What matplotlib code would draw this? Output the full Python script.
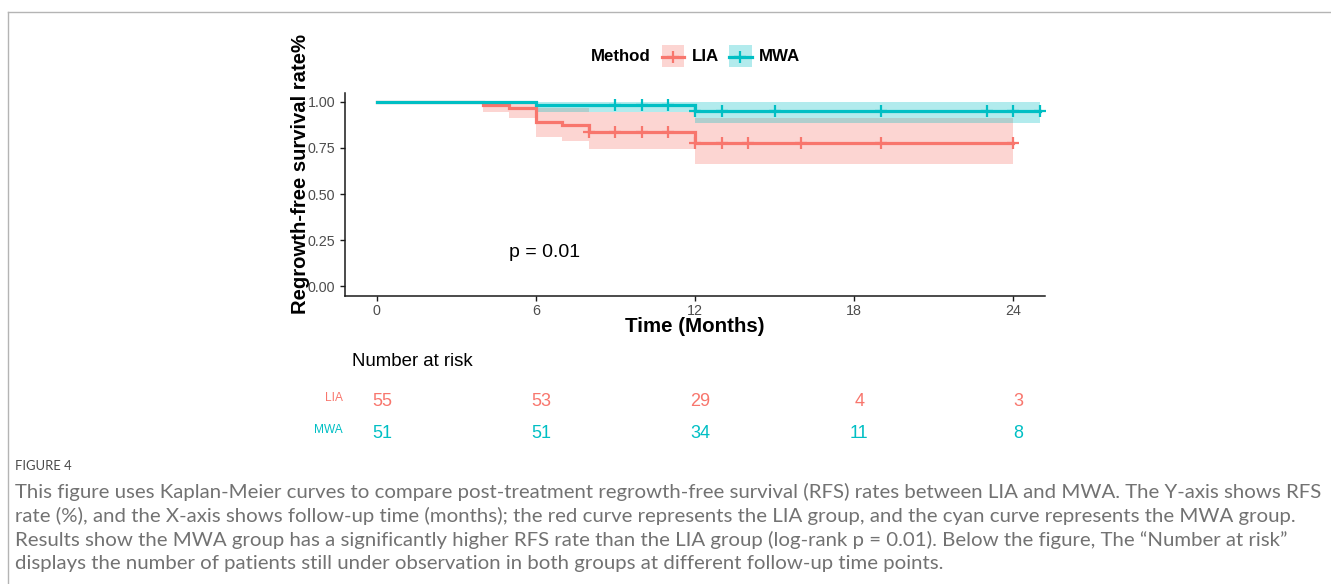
import numpy as np
import matplotlib
matplotlib.use("Agg")
import matplotlib.pyplot as plt
from matplotlib.patches import Rectangle
from matplotlib.lines import Line2D
from matplotlib.transforms import blended_transform_factory

# Kaplan-Meier step data
lia_time = [0, 4, 5, 6, 7, 8, 12]
lia_surv = [1.0, 0.982, 0.964, 0.891, 0.873, 0.836, 0.779]
lia_lower = [1.0, 0.946, 0.913, 0.810, 0.786, 0.743, 0.665]
lia_upper = [1.0, 1.0, 1.0, 0.967, 0.967, 0.942, 0.910]
lia_end = 24
lia_censor = [8, 9, 10, 11, 12, 13, 14, 16, 19, 24]

mwa_time = [0, 6, 12]
mwa_surv = [1.0, 0.980, 0.951]
mwa_lower = [1.0, 0.942, 0.886]
mwa_upper = [1.0, 1.0, 1.0]
mwa_end = 25
mwa_censor = [9, 10, 11, 12, 13, 15, 19, 23, 24, 25]

risk_times = [0, 6, 12, 18, 24]
lia_risk = [55, 53, 29, 4, 3]
mwa_risk = [51, 51, 34, 11, 8]

LIA_COL = "#F8766D"
MWA_COL = "#00BFC4"
FONT = ["Liberation Sans", "DejaVu Sans"]
plt.rcParams["font.family"] = FONT

W, H = 1331, 584
fig = plt.figure(figsize=(W / 100, H / 100), dpi=100)


def fx(x):
    return x / W


def fy(y):
    return 1 - y / H


# frame lines of the article figure box
fig.add_artist(Line2D([fx(7.5), 1], [fy(11.5), fy(11.5)], color="#b4b4b4", lw=1))
fig.add_artist(Line2D([fx(7.5), fx(7.5)], [fy(11.5), 0], color="#b4b4b4", lw=1))

ax_l, ax_r, ax_t, ax_b = 345, 1045, 92.5, 295.5
ax = fig.add_axes([fx(ax_l), fy(ax_b), fx(ax_r - ax_l), (ax_b - ax_t) / H])


def draw_group(times, surv, lower, upper, end, col):
    t = list(times) + [end]
    s = list(surv) + [surv[-1]]
    lo = list(lower) + [lower[-1]]
    up = list(upper) + [upper[-1]]
    ax.fill_between(t, lo, up, step="post", color=col, alpha=0.3, lw=0)
    return t, s


lt, ls = draw_group(lia_time, lia_surv, lia_lower, lia_upper, lia_end, LIA_COL)
mt, ms = draw_group(mwa_time, mwa_surv, mwa_lower, mwa_upper, mwa_end, MWA_COL)

for t, s, times, surv, cens, col in [
    (lt, ls, lia_time, lia_surv, lia_censor, LIA_COL),
    (mt, ms, mwa_time, mwa_surv, mwa_censor, MWA_COL),
]:
    ax.step(t, s, where="post", color=col, lw=2.3, solid_joinstyle="miter")
    idx = np.searchsorted(times, cens, side="right") - 1
    ax.plot(cens, np.array(surv)[idx], ls="none", marker="+", ms=9, mew=1.6, color=col)

ax.set_xlim(-1.2, 25.2)
ax.set_ylim(-0.05, 1.05)
ax.set_xticks([0, 6, 12, 18, 24])
ax.set_yticks([0, 0.25, 0.5, 0.75, 1.0])
ax.set_yticklabels(["0.00", "0.25", "0.50", "0.75", "1.00"])
for side in ["top", "right"]:
    ax.spines[side].set_visible(False)
for side in ["left", "bottom"]:
    ax.spines[side].set_linewidth(1.1)
    ax.spines[side].set_color("#1a1a1a")
ax.tick_params(labelsize=10.3, labelcolor="#4d4d4d", color="#1a1a1a", length=3.5, width=1)
ax.tick_params(axis="x", pad=2.5)

ax.text(5.0, 0.185, "p = 0.01", fontsize=14, va="center", ha="left")

fig.text(fx(695), fy(327), "Time (Months)", fontsize=14.8, fontweight="bold", ha="center", va="center")
fig.text(fx(300), fy(174), "Regrowth-free survival rate%", fontsize=14.6, fontweight="bold",
         ha="center", va="center", rotation=90)

# legend
ly = 56.5
fig.text(fx(591), fy(ly), "Method", fontsize=12.2, fontweight="bold", ha="left", va="center")
for x0, lab, col in [(661.5, "LIA", LIA_COL), (729, "MWA", MWA_COL)]:
    fig.add_artist(Rectangle((fx(x0), fy(67)), fx(22.5), 22 / H, transform=fig.transFigure,
                             facecolor=col, alpha=0.3, lw=0))
    fig.add_artist(Line2D([fx(x0), fx(x0 + 22.5)], [fy(ly), fy(ly)], color=col, lw=2.3))
    fig.add_artist(Line2D([fx(x0 + 11.25)], [fy(ly)], color=col, marker="+", ms=9, mew=1.6))
    fig.text(fx(x0 + 30), fy(ly), lab, fontsize=12.2, fontweight="bold", ha="left", va="center")

# number at risk table
fig.text(fx(352), fy(362), "Number at risk", fontsize=13.4, ha="left", va="center")
tr = blended_transform_factory(ax.transData, fig.transFigure)
for row_y, lab, vals, col in [(401, "LIA", lia_risk, LIA_COL), (433, "MWA", mwa_risk, MWA_COL)]:
    fig.text(fx(343), fy(row_y - 3), lab, fontsize=8.6, color=col, ha="right", va="center")
    for t, v in zip(risk_times, vals):
        ax.text(t + 0.2, fy(row_y), str(v), transform=tr, fontsize=13, color=col,
                ha="center", va="center")

# caption
cap_font = ["Lato", "DejaVu Sans"]
fig.text(fx(15), fy(466), "FIGURE 4", fontsize=9.4, color="#4a4a4a", family=cap_font,
         ha="left", va="center")
caption = [
    "This figure uses Kaplan-Meier curves to compare post-treatment regrowth-free survival (RFS) rates between LIA and MWA. The Y-axis shows RFS",
    "rate (%), and the X-axis shows follow-up time (months); the red curve represents the LIA group, and the cyan curve represents the MWA group.",
    "Results show the MWA group has a significantly higher RFS rate than the LIA group (log-rank p = 0.01). Below the figure, The \u201cNumber at risk\u201d",
    "displays the number of patients still under observation in both groups at different follow-up time points.",
]
for i, line in enumerate(caption):
    fig.text(fx(15), fy(492 + 24 * i), line, fontsize=14.7, color="#727272", family=cap_font,
             ha="left", va="center")

fig.savefig("out.png", dpi=100)
